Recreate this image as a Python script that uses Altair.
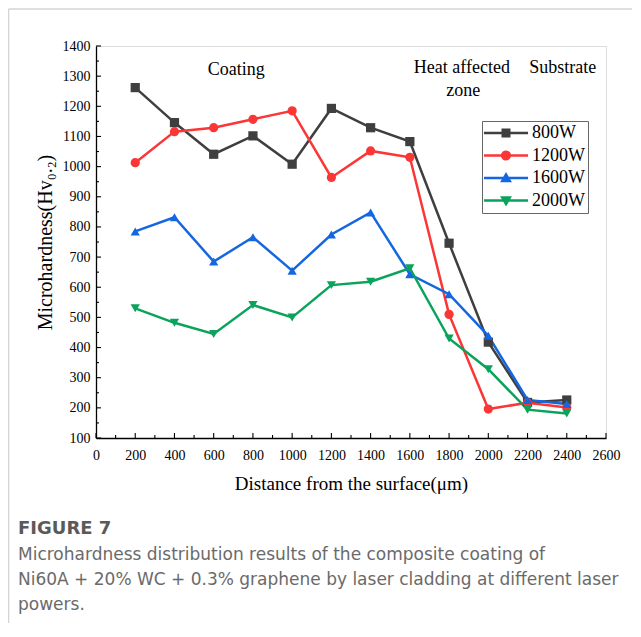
import altair as alt
import pandas as pd

# ---------------- data ----------------
distance = [200, 400, 600, 800, 1000, 1200, 1400, 1600, 1800, 2000, 2200, 2400]
series_names = ["800W", "1200W", "1600W", "2000W"]
hv_800 = [1262, 1146, 1041, 1102, 1008, 1193, 1129, 1083, 746, 418, 218, 226]
hv_1200 = [1013, 1116, 1129, 1157, 1185, 964, 1052, 1031, 510, 196, 217, 201]
hv_1600 = [785, 832, 685, 766, 655, 775, 848, 643, 577, 439, 226, 213]
hv_2000 = [530, 482, 445, 541, 500, 607, 618, 663, 430, 328, 194, 181]
series_values = [hv_800, hv_1200, hv_1600, hv_2000]

colors = ["#3f3f3f", "#fb3636", "#1467e0", "#0aa35b"]
marker_shapes = ["square", "circle", "triangle-up", "triangle-down"]

x_major = list(range(0, 2601, 200))
x_minor = list(range(100, 2600, 200))
y_major = list(range(100, 1401, 100))
y_minor = list(range(150, 1400, 100))

ann_text = ["Coating", "Heat affected", "zone", "Substrate"]
ann_x = [715, 1865, 1872, 2380]
ann_y = [1320, 1327, 1251, 1328]

x_title = "Distance from the surface(μm)"
y_title = "Microhardness(Hv₀.₂)"
fig_label = "FIGURE 7"
caption_lines = [
    "Microhardness distribution results of the composite coating of",
    "Ni60A + 20% WC + 0.3% graphene by laser cladding at different laser",
    "powers.",
]

# ---------------- tables ----------------
rows = []
for name, vals in zip(series_names, series_values):
    for d, v in zip(distance, vals):
        rows.append({"series": name, "distance": d, "hv": v})
df = pd.DataFrame(rows)

W, H = 510, 392
SERIF = "Liberation Serif"

x_scale = alt.Scale(domain=[0, 2600], nice=False, zero=False)
y_scale = alt.Scale(domain=[100, 1400], nice=False, zero=False)

x_axis = alt.Axis(values=x_major, format="d", ticks=False, tickSize=0, grid=False,
                  domainColor="black", domainWidth=1.3, labelFont=SERIF,
                  labelFontSize=14, labelColor="black", labelPadding=10,
                  title=x_title, titleFont=SERIF, titleFontSize=19,
                  titleFontWeight="normal", titleColor="black", titlePadding=12,
                  labelFlush=False)
y_axis = alt.Axis(values=y_major, format="d", ticks=False, tickSize=0, grid=False,
                  domainColor="black", domainWidth=1.3, labelFont=SERIF,
                  labelFontSize=14, labelColor="black", labelPadding=6,
                  title=y_title, titleFont=SERIF, titleFontSize=20,
                  titleFontWeight="normal", titleColor="black", titlePadding=7,
                  labelFlush=False)

X = lambda f: alt.X(f, scale=x_scale, axis=x_axis)
Y = lambda f: alt.Y(f, scale=y_scale, axis=y_axis)

color_main = alt.Color("series:N", scale=alt.Scale(domain=series_names, range=colors), legend=None)
shape_main = alt.Shape("series:N", scale=alt.Scale(domain=series_names, range=marker_shapes), legend=None)

lines = alt.Chart(df).mark_line(strokeWidth=2.5).encode(
    x=X("distance:Q"), y=Y("hv:Q"), color=color_main, detail="series:N",
    order="distance:Q")

points = alt.Chart(df).mark_point(filled=True, opacity=1, size=85).encode(
    x=X("distance:Q"), y=Y("hv:Q"), color=color_main, shape=shape_main)

# legend-only layer: symbols combine a line segment with the marker
# (symbol size 324 -> 9 px per path unit)
leg_line = "M-2.45,-0.14L2.45,-0.14L2.45,0.14L-2.45,0.14Z"
leg_paths = [
    leg_line + "M-0.5,-0.5L0.5,-0.5L0.5,0.5L-0.5,0.5Z",
    leg_line + "M-0.56,0A0.56,0.56,0,1,1,0.56,0A0.56,0.56,0,1,1,-0.56,0Z",
    leg_line + "M0,-0.68L0.66,0.46L-0.66,0.46Z",
    leg_line + "M0,0.68L-0.66,-0.46L0.66,-0.46Z",
]
legend = alt.Legend(orient="none", legendX=386, legendY=75, title=None,
                    padding=3, strokeColor="#666666",
                    rowPadding=4.5, labelFont=SERIF, labelFontSize=18,
                    labelColor="black", labelOffset=17, symbolOffset=12,
                    symbolSize=324, symbolStrokeWidth=0, symbolOpacity=1)
legend_layer = alt.Chart(df).transform_filter("false").mark_point(filled=True).encode(
    x=X("distance:Q"), y=Y("hv:Q"),
    color=alt.Color("series:N", scale=alt.Scale(domain=series_names, range=colors), legend=legend),
    shape=alt.Shape("series:N", scale=alt.Scale(domain=series_names, range=leg_paths), legend=legend),
)

# inward ticks
xt_major = alt.Chart(pd.DataFrame({"t": x_major})).mark_rule(color="black", strokeWidth=1.1).encode(
    x=X("t:Q"), y=alt.value(H), y2=alt.value(H - 5))
xt_minor = alt.Chart(pd.DataFrame({"t": x_minor})).mark_rule(color="black", strokeWidth=1.1).encode(
    x=X("t:Q"), y=alt.value(H), y2=alt.value(H - 3))
yt_major = alt.Chart(pd.DataFrame({"t": y_major})).mark_rule(color="black", strokeWidth=1.1).encode(
    y=Y("t:Q"), x=alt.value(0), x2=alt.value(5))
yt_minor = alt.Chart(pd.DataFrame({"t": y_minor})).mark_rule(color="black", strokeWidth=1.1).encode(
    y=Y("t:Q"), x=alt.value(0), x2=alt.value(3))

ann = alt.Chart(pd.DataFrame({"txt": ann_text, "ax": ann_x, "ay": ann_y})).mark_text(
    font=SERIF, fontSize=18, color="black", align="center", baseline="middle").encode(
    x=X("ax:Q"), y=Y("ay:Q"), text="txt:N")

one = pd.DataFrame({"k": [0]})
fig_text = alt.Chart(one).mark_text(
    font="DejaVu Sans", fontSize=18, fontWeight="bold", color="#5a5a5a",
    align="left", baseline="alphabetic").encode(
    x=alt.value(-78), y=alt.value(488), text=alt.value(fig_label))
cap_text = alt.Chart(one).mark_text(
    font="DejaVu Sans", fontSize=17, color="#6a6a6a", align="left",
    baseline="alphabetic", lineHeight=25).encode(
    x=alt.value(-78), y=alt.value(514), text=alt.value(caption_lines))

card_top = alt.Chart(one).mark_rule(color="#d4d4d4", strokeWidth=1.5).encode(
    x=alt.value(-87.5), x2=alt.value(W + 40), y=alt.value(-37))
card_left = alt.Chart(one).mark_rule(color="#d4d4d4", strokeWidth=1.5).encode(
    x=alt.value(-87.5), y=alt.value(-37), y2=alt.value(H + 200))

chart = alt.layer(
    card_top, card_left,
    lines, points, legend_layer,
    xt_major, xt_minor, yt_major, yt_minor,
    ann, fig_text, cap_text,
).resolve_scale(
    color="independent", shape="independent"
).properties(
    width=W, height=H,
    autosize=alt.AutoSizeParams(type="none"),
    padding={"left": 88, "top": 38, "right": 26, "bottom": 185},
).configure_view(
    stroke="#8c8c8c", strokeWidth=1
).configure(background="white")

chart.save("out.html", embed_options={"renderer": "svg", "actions": False})
